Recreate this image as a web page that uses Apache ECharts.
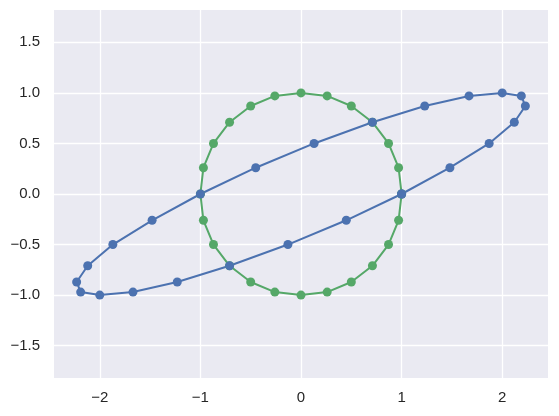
<!DOCTYPE html>
<html><head><meta charset="utf-8">
<script src="https://cdn.jsdelivr.net/npm/echarts@6/dist/echarts.min.js"></script>
<style>html,body{margin:0;padding:0;background:#fff}#c{width:559px;height:416px}</style>
</head><body><div id="c"></div>
<script>
// Green circle points (closed)
const circleX = [1, 0.97, 0.87, 0.71, 0.5, 0.26, 0, -0.26, -0.5, -0.71, -0.87, -0.97, -1, -0.97, -0.87, -0.71, -0.5, -0.26, 0, 0.26, 0.5, 0.71, 0.87, 0.97, 1];
const circleY = [0, 0.26, 0.5, 0.71, 0.87, 0.97, 1, 0.97, 0.87, 0.71, 0.5, 0.26, 0, -0.26, -0.5, -0.71, -0.87, -0.97, -1, -0.97, -0.87, -0.71, -0.5, -0.26, 0];
// Blue sheared ellipse points (closed)
const ellipseX = [1, 1.48, 1.87, 2.12, 2.23, 2.19, 2, 1.67, 1.23, 0.71, 0.13, -0.45, -1, -1.48, -1.87, -2.12, -2.23, -2.19, -2, -1.67, -1.23, -0.71, -0.13, 0.45, 1];
const ellipseY = [0, 0.26, 0.5, 0.71, 0.87, 0.97, 1, 0.97, 0.87, 0.71, 0.5, 0.26, 0, -0.26, -0.5, -0.71, -0.87, -0.97, -1, -0.97, -0.87, -0.71, -0.5, -0.26, 0];
// Tick labels
const xTicks = [-2, -1, 0, 1, 2];
const yTicks = [-1.5, -1, -0.5, 0, 0.5, 1, 1.5];

const zip = (a, b) => a.map((v, i) => [v, b[i]]);
const fmt = v => (v < 0 ? '\u2212' : '') + Math.abs(v);
const fmtY = v => (v < 0 ? '\u2212' : '') + Math.abs(v).toFixed(1);

const chart = echarts.init(document.getElementById('c'), null, {renderer: 'canvas'});
const txt = {color: '#262626', fontFamily: 'Liberation Sans', fontSize: 15};
chart.setOption({
  animation: false,
  grid: {left: 54, top: 10, width: 494, height: 368, backgroundColor: '#eaeaf2', show: true, borderWidth: 0},
  xAxis: {
    type: 'value', min: -2.455, max: 2.455,
    axisLine: {show: false},
    axisTick: {show: false, customValues: xTicks},
    axisLabel: Object.assign({customValues: xTicks, formatter: fmt, margin: 12}, txt),
    splitLine: {show: true, lineStyle: {color: '#fff', width: 1.3}}
  },
  yAxis: {
    type: 'value', min: -1.82, max: 1.82,
    axisLine: {show: false},
    axisTick: {show: false, customValues: yTicks},
    axisLabel: Object.assign({customValues: yTicks, formatter: fmtY, margin: 14}, txt),
    splitLine: {show: true, lineStyle: {color: '#fff', width: 1.3}}
  },
  series: [
    {type: 'line', data: zip(circleX, circleY), symbol: 'circle', symbolSize: 9, showAllSymbol: true,
     itemStyle: {color: '#55a868'}, lineStyle: {color: '#55a868', width: 2}},
    {type: 'line', data: zip(ellipseX, ellipseY), symbol: 'circle', symbolSize: 9, showAllSymbol: true,
     itemStyle: {color: '#4c72b0'}, lineStyle: {color: '#4c72b0', width: 2}}
  ]
});
</script></body></html>
